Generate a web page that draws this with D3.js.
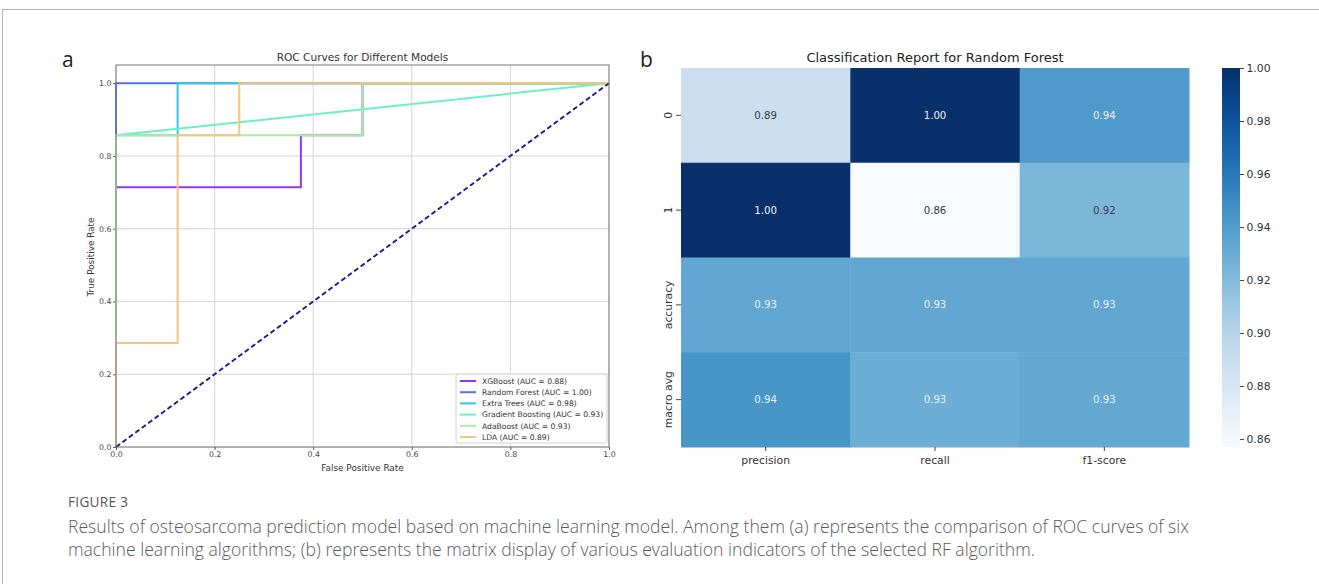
<!DOCTYPE html>
<html>
<head>
<meta charset="utf-8">
<script src="https://cdn.jsdelivr.net/npm/d3@7"></script>
<style>
  html, body { margin: 0; padding: 0; background: #fff; }
  svg { display: block; }
  .mpl { font-family: "DejaVu Sans", sans-serif; fill: #333; }
  .cap { font-family: "Open Sans", sans-serif; fill: #5a5a5a; }
</style>
</head>
<body>
<svg id="fig" width="1319" height="584"></svg>
<script>
// ---------- ROC data (false positive rate / true positive rate) ----------
const modelNames = ["XGBoost", "Random Forest", "Extra Trees", "Gradient Boosting", "AdaBoost", "LDA"];
const modelAUC   = [0.88, 1.00, 0.98, 0.93, 0.93, 0.89];
const modelColors = ["#9236f4", "#5271f2", "#38c3ea", "#6cf0c6", "#a8ee9e", "#f2c67c"];
const fprXGB = [0, 0, 0.375, 0.375, 0.5, 0.5, 1];
const tprXGB = [0, 0.714, 0.714, 0.857, 0.857, 1, 1];
const fprRF  = [0, 0, 1];
const tprRF  = [0, 1, 1];
const fprET  = [0, 0, 0.125, 0.125, 1];
const tprET  = [0, 0.857, 0.857, 1, 1];
const fprGB  = [0, 0, 1];
const tprGB  = [0, 0.857, 1];
const fprADA = [0, 0, 0.5, 0.5, 1];
const tprADA = [0, 0.857, 0.857, 1, 1];
const fprLDA = [0, 0, 0.125, 0.125, 0.25, 0.25, 1];
const tprLDA = [0, 0.286, 0.286, 0.857, 0.857, 1, 1];
const rocFpr = [fprXGB, fprRF, fprET, fprGB, fprADA, fprLDA];
const rocTpr = [tprXGB, tprRF, tprET, tprGB, tprADA, tprLDA];
const rocTicks = [0, 0.2, 0.4, 0.6, 0.8, 1.0];

// ---------- classification report ----------
const reportRows = ["0", "1", "accuracy", "macro avg"];
const reportCols = ["precision", "recall", "f1-score"];
const rowClass0   = [0.889, 1.000, 0.941];
const rowClass1   = [1.000, 0.857, 0.923];
const rowAccuracy = [0.933, 0.933, 0.933];
const rowMacroAvg = [0.944, 0.929, 0.932];
const reportValues = [rowClass0, rowClass1, rowAccuracy, rowMacroAvg];
const cbarTicks = [0.86, 0.88, 0.90, 0.92, 0.94, 0.96, 0.98, 1.00];

const captionHead = "FIGURE 3";
const captionLines = [
  "Results of osteosarcoma prediction model based on machine learning model. Among them (a) represents the comparison of ROC curves of six",
  "machine learning algorithms; (b) represents the matrix display of various evaluation indicators of the selected RF algorithm."
];

const svg = d3.select("#fig");
const f2 = d3.format(".2f"), f1 = d3.format(".1f");

// page frame
svg.append("path").attr("d", "M2.5,584 V9.5 H1319").attr("fill", "none")
  .attr("stroke", "#b4b4b4").attr("stroke-width", 1);

// panel letters
svg.append("text").attr("class", "cap").attr("x", 62).attr("y", 67)
  .attr("font-size", 21).style("fill", "#222").text("a");
svg.append("text").attr("class", "cap").attr("x", 640).attr("y", 67)
  .attr("font-size", 21).style("fill", "#222").text("b");

// ================= ROC panel =================
const x = d3.scaleLinear().domain([0, 1]).range([116, 609]);
const y = d3.scaleLinear().domain([0, 1.05]).range([447, 65]);
const roc = svg.append("g");

// grid
roc.append("g").selectAll("line").data(rocTicks).join("line")
  .attr("x1", d => x(d)).attr("x2", d => x(d)).attr("y1", y(0)).attr("y2", y(1.05))
  .attr("stroke", "#d6d6d6").attr("stroke-width", 1);
roc.append("g").selectAll("line").data(rocTicks).join("line")
  .attr("y1", d => y(d)).attr("y2", d => y(d)).attr("x1", x(0)).attr("x2", x(1))
  .attr("stroke", "#d6d6d6").attr("stroke-width", 1);

// axes
const xAxis = d3.axisBottom(x).tickValues(rocTicks).tickFormat(f1).tickSize(3).tickPadding(1.5);
const yAxis = d3.axisLeft(y).tickValues(rocTicks).tickFormat(f1).tickSize(3).tickPadding(1.5);
const gx = roc.append("g").attr("transform", `translate(0,${y(0)})`).call(xAxis);
const gy = roc.append("g").attr("transform", `translate(${x(0)},0)`).call(yAxis);
[gx, gy].forEach(g => {
  g.select(".domain").remove();
  g.selectAll("line").attr("stroke", "#555");
  g.selectAll("text").attr("class", "mpl").attr("font-size", 7.8).style("fill", "#444");
});

// curves
const line = d3.line().x(d => x(d[0])).y(d => y(d[1]));
rocFpr.forEach((fp, i) => {
  const pts = fp.map((v, j) => [v, rocTpr[i][j]]);
  roc.append("path").attr("d", line(pts)).attr("fill", "none")
    .attr("stroke", modelColors[i]).attr("stroke-width", 2)
    .attr("stroke-linejoin", "miter");
});
// chance diagonal
roc.append("path").attr("d", line([[0, 0], [1, 1]])).attr("fill", "none")
  .attr("stroke", "#1c1c8c").attr("stroke-width", 2).attr("stroke-dasharray", "5,3");

// frame
roc.append("rect").attr("x", x(0)).attr("y", y(1.05))
  .attr("width", x(1) - x(0)).attr("height", y(0) - y(1.05))
  .attr("fill", "none").attr("stroke", "#7a7a7a").attr("stroke-width", 1);

// titles
roc.append("text").attr("class", "mpl").attr("x", (x(0) + x(1)) / 2).attr("y", 61)
  .attr("text-anchor", "middle").attr("font-size", 10.6).text("ROC Curves for Different Models");
roc.append("text").attr("class", "mpl").attr("x", (x(0) + x(1)) / 2).attr("y", 471)
  .attr("text-anchor", "middle").attr("font-size", 8.9).text("False Positive Rate");
roc.append("text").attr("class", "mpl")
  .attr("transform", "translate(94,257) rotate(-90)")
  .attr("text-anchor", "middle").attr("font-size", 8.9).text("True Positive Rate");

// legend
const lg = roc.append("g").attr("transform", "translate(456,374)");
lg.append("rect").attr("width", 151).attr("height", 69).attr("rx", 2)
  .attr("fill", "#fff").attr("fill-opacity", 0.85).attr("stroke", "#d0d0d0");
modelNames.forEach((name, i) => {
  const ry = 7 + i * 11.2;
  lg.append("line").attr("x1", 4).attr("x2", 20).attr("y1", ry).attr("y2", ry)
    .attr("stroke", modelColors[i]).attr("stroke-width", 2);
  lg.append("text").attr("class", "mpl").attr("x", 26).attr("y", ry + 2.7)
    .attr("font-size", 7.6).text(`${name} (AUC = ${f2(modelAUC[i])})`);
});

// ================= Heatmap panel =================
const hx = d3.scaleBand().domain(reportCols).range([681, 1189]);
const hy = d3.scaleBand().domain(reportRows).range([68, 447]);
const allVals = reportValues.flat();
const vmin = d3.min(allVals), vmax = d3.max(allVals);
const color = d3.scaleSequential(d3.interpolateBlues).domain([vmin, vmax]);

function textColorFor(c) {
  const rgb = d3.rgb(c);
  const lin = v => { v /= 255; return v <= 0.03928 ? v / 12.92 : Math.pow((v + 0.055) / 1.055, 2.4); };
  const lum = 0.2126 * lin(rgb.r) + 0.7152 * lin(rgb.g) + 0.0722 * lin(rgb.b);
  return lum > 0.408 ? "#3a3a3a" : "#f0f0f0";
}

const hm = svg.append("g");
const cells = reportRows.flatMap((r, i) => reportCols.map((c, j) => ({ r, c, v: reportValues[i][j] })));
hm.selectAll("rect").data(cells).join("rect")
  .attr("x", d => hx(d.c)).attr("y", d => hy(d.r))
  .attr("width", hx.bandwidth() + 0.5).attr("height", hy.bandwidth() + 0.5)
  .attr("fill", d => color(d.v));
hm.selectAll("text.ann").data(cells).join("text")
  .attr("class", "mpl ann")
  .attr("x", d => hx(d.c) + hx.bandwidth() / 2).attr("y", d => hy(d.r) + hy.bandwidth() / 2 + 3.6)
  .attr("text-anchor", "middle").attr("font-size", 10.2)
  .style("fill", d => textColorFor(color(d.v))).text(d => f2(d.v));

// heatmap axes
const hxAxis = d3.axisBottom(hx).tickSize(4).tickPadding(5);
const ghx = hm.append("g").attr("transform", "translate(0,447)").call(hxAxis);
ghx.select(".domain").remove();
ghx.selectAll("line").attr("stroke", "#444");
ghx.selectAll("text").attr("class", "mpl").attr("font-size", 10.8).style("fill", "#333");

const ghy = hm.append("g").attr("transform", "translate(681,0)");
ghy.selectAll("line").data(reportRows).join("line")
  .attr("x1", -5).attr("x2", 0)
  .attr("y1", d => hy(d) + hy.bandwidth() / 2).attr("y2", d => hy(d) + hy.bandwidth() / 2)
  .attr("stroke", "#444");
ghy.selectAll("text").data(reportRows).join("text")
  .attr("class", "mpl").attr("font-size", 10.8).attr("text-anchor", "middle")
  .attr("transform", d => `translate(-9,${hy(d) + hy.bandwidth() / 2}) rotate(-90)`)
  .text(d => d);

hm.append("text").attr("class", "mpl").attr("x", (681 + 1189) / 2).attr("y", 62)
  .attr("text-anchor", "middle").attr("font-size", 13).style("fill", "#222")
  .text("Classification Report for Random Forest");

// colorbar
const cbX = 1222, cbW = 18;
const cy = d3.scaleLinear().domain([vmin, vmax]).range([447, 68]);
const grad = svg.append("defs").append("linearGradient").attr("id", "cbar")
  .attr("x1", 0).attr("y1", 1).attr("x2", 0).attr("y2", 0);
d3.range(0, 1.0001, 0.05).forEach(t => {
  grad.append("stop").attr("offset", t).attr("stop-color", d3.interpolateBlues(t));
});
hm.append("rect").attr("x", cbX).attr("y", 68).attr("width", cbW).attr("height", 447 - 68)
  .attr("fill", "url(#cbar)");
const cbAxis = d3.axisRight(cy).tickValues(cbarTicks).tickFormat(f2).tickSize(4).tickPadding(2.5);
const gcb = hm.append("g").attr("transform", `translate(${cbX + cbW},0)`).call(cbAxis);
gcb.select(".domain").remove();
gcb.selectAll("line").attr("stroke", "#444");
gcb.selectAll("text").attr("class", "mpl").attr("font-size", 10.8).style("fill", "#333");

// ================= Caption =================
svg.append("text").attr("class", "cap").attr("x", 68).attr("y", 507)
  .attr("font-size", 13.6).attr("letter-spacing", 0.3).style("fill", "#555").text(captionHead);
captionLines.forEach((t, i) => {
  svg.append("text").attr("class", "cap").attr("x", 68).attr("y", 533 + i * 22.5)
    .attr("font-size", 17.6).attr("font-weight", 300).text(t);
});
</script>
</body>
</html>
